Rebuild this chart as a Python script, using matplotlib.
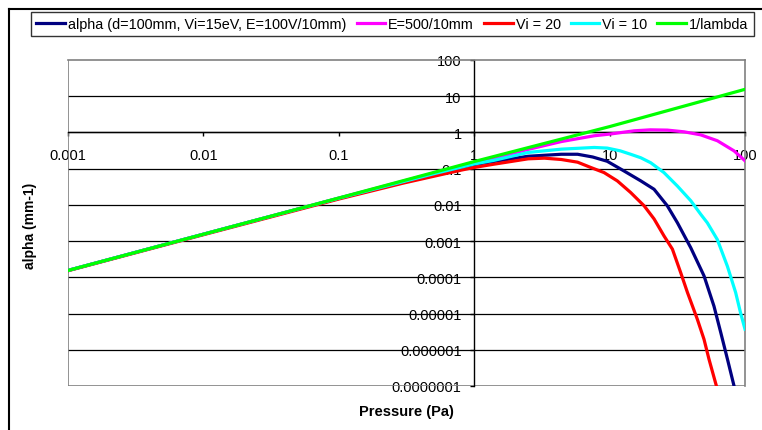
import numpy as np
import matplotlib.pyplot as plt
from matplotlib.lines import Line2D
from matplotlib.ticker import FixedLocator, FuncFormatter, NullLocator

plt.rcParams['font.family'] = ['Liberation Sans', 'DejaVu Sans']

# ---- data ----
p_green = [0.001, 0.01, 0.1, 1, 10, 100]
v_green = [1.55e-4, 1.55e-3, 0.0155, 0.157, 1.45, 15.5]

p_mag = [0.001, 0.01, 0.1, 0.5, 1.0, 1.4, 2.5, 4.4, 7.7, 10, 15.2, 20, 26.7,
         35.5, 47, 62.5, 83, 100]
v_mag = [1.55e-4, 1.55e-3, 0.0154, 0.075, 0.148, 0.195, 0.34, 0.56, 0.81, 0.9,
         1.11, 1.18, 1.16, 1.04, 0.86, 0.59, 0.31, 0.165]

p_cyan = [0.001, 0.01, 0.1, 0.5, 1.0, 1.4, 2.5, 4.4, 7.7, 9.6, 12, 14.3, 17,
          20.1, 25.2, 31.7, 39.8, 47.1, 52.7, 62.5, 74.2, 85.3, 93, 100]
v_cyan = [1.55e-4, 1.55e-3, 0.0153, 0.072, 0.135, 0.17, 0.28, 0.346, 0.385,
          0.37, 0.31, 0.25, 0.2, 0.146, 0.078, 0.033, 0.013, 0.0055, 0.0032,
          0.0011, 2.0e-4, 3.8e-5, 1e-5, 3.7e-6]

p_blue = [0.001, 0.01, 0.1, 0.5, 1.0, 1.4, 2.5, 4.4, 5.8, 7.5, 9.6, 12.8, 17,
          21.3, 26.7, 31.7, 39.8, 49.8, 59, 66.2, 74.2, 83]
v_blue = [1.55e-4, 1.55e-3, 0.0152, 0.07, 0.13, 0.158, 0.22, 0.25, 0.25, 0.21,
          0.16, 0.086, 0.046, 0.027, 0.0094, 0.0032, 6.5e-4, 1.1e-4, 1.6e-5,
          3e-6, 5.5e-7, 1e-7]

p_red = [0.001, 0.01, 0.1, 0.3, 0.8, 1.0, 1.4, 2.5, 3.3, 4.4, 5.8, 7.3, 9.1,
         11.4, 14.3, 18, 21.3, 25.2, 29.1, 33.5, 37.6, 44.5, 49.8, 54.2, 61.5]
v_red = [1.52e-4, 1.5e-3, 0.0145, 0.04, 0.091, 0.108, 0.133, 0.187, 0.195,
         0.179, 0.151, 0.107, 0.078, 0.046, 0.022, 0.0094, 0.0041, 0.0014,
         6e-4, 1.35e-4, 3.8e-5, 6.9e-6, 1.95e-6, 5.5e-7, 1e-7]

x_ticks = [0.001, 0.01, 0.1, 1, 10, 100]
y_ticks = [1e-7, 1e-6, 1e-5, 1e-4, 1e-3, 1e-2, 0.1, 1, 10, 100]

labels = ['alpha (d=100mm, Vi=15eV, E=100V/10mm)', 'E=500/10mm', 'Vi = 20',
          'Vi = 10', '1/lambda']

FS = 10.5
W, H = 762, 431
fig = plt.figure(figsize=(W / 100, H / 100), dpi=100)
ax = fig.add_axes([68 / W, 1 - 387 / H, 677 / W, 326 / H])
ax.set_xscale('log')
ax.set_yscale('log')
ax.set_xlim(0.001, 100)
ax.set_ylim(1e-7, 100)

lw = 2.3
ax.plot(p_blue, v_blue, color='#000080', lw=lw, label=labels[0], zorder=3)
ax.plot(p_mag, v_mag, color='#ff00ff', lw=lw, label=labels[1], zorder=3)
ax.plot(p_red, v_red, color='#ff0000', lw=lw, label=labels[2], zorder=3)
ax.plot(p_cyan, v_cyan, color='#00ffff', lw=lw, label=labels[3], zorder=3)
ax.plot(p_green, v_green, color='#00ff00', lw=lw, label=labels[4], zorder=3)

# horizontal gridlines
for yv in y_ticks[1:-1]:
    ax.axhline(yv, color='black', lw=0.9, zorder=1)

# axes cross at x=1, y=1
for side in ['top', 'right']:
    ax.spines[side].set_color('#808080')
    ax.spines[side].set_linewidth(1.2)
ax.spines['left'].set_position(('data', 1))
ax.spines['bottom'].set_position(('data', 1))
ax.spines['left'].set_color('black')
ax.spines['bottom'].set_color('black')
ax.spines['left'].set_linewidth(1.0)
ax.spines['bottom'].set_linewidth(1.0)
ax.axvline(0.001, color='#808080', lw=1.2, zorder=2)
ax.axhline(1e-7, color='#808080', lw=1.2, zorder=2)

fmt = FuncFormatter(lambda v, pos: np.format_float_positional(v, trim='-'))
ax.xaxis.set_major_locator(FixedLocator(x_ticks))
ax.yaxis.set_major_locator(FixedLocator(y_ticks))
ax.xaxis.set_minor_locator(NullLocator())
ax.yaxis.set_minor_locator(NullLocator())
ax.xaxis.set_major_formatter(fmt)
ax.yaxis.set_major_formatter(fmt)
ax.tick_params(axis='x', direction='out', length=3, width=1, pad=8,
               labelsize=FS)
ax.tick_params(axis='y', direction='out', length=3, width=1, pad=6,
               labelsize=FS)
for t in ax.get_yticklabels() + ax.get_xticklabels():
    t.set_zorder(5)

fig.text(406 / W, 1 - 412 / H, 'Pressure (Pa)', ha='center', va='center',
         fontsize=FS, fontweight='bold')
fig.text(30 / W, 1 - 226 / H, 'alpha (mm-1)', ha='center', va='center',
         rotation=90, fontsize=10, fontweight='bold')

leg = fig.legend(loc='upper left', bbox_to_anchor=(31 / W, 1 - 12.5 / H),
                 ncol=5, fontsize=10.35, frameon=True, fancybox=False,
                 edgecolor='black', borderaxespad=0, handlelength=2.0,
                 handletextpad=0.2, columnspacing=0.7, borderpad=0.38)
leg.get_frame().set_linewidth(1.0)

# outer chart border (cropped)
fig.add_artist(Line2D([9 / W, 1], [1 - 10 / H, 1 - 10 / H], color='black',
                      lw=1.5, transform=fig.transFigure))
fig.add_artist(Line2D([9 / W, 9 / W], [0, 1 - 10 / H], color='black',
                      lw=1.5, transform=fig.transFigure))

fig.savefig('out.png', dpi=100)
